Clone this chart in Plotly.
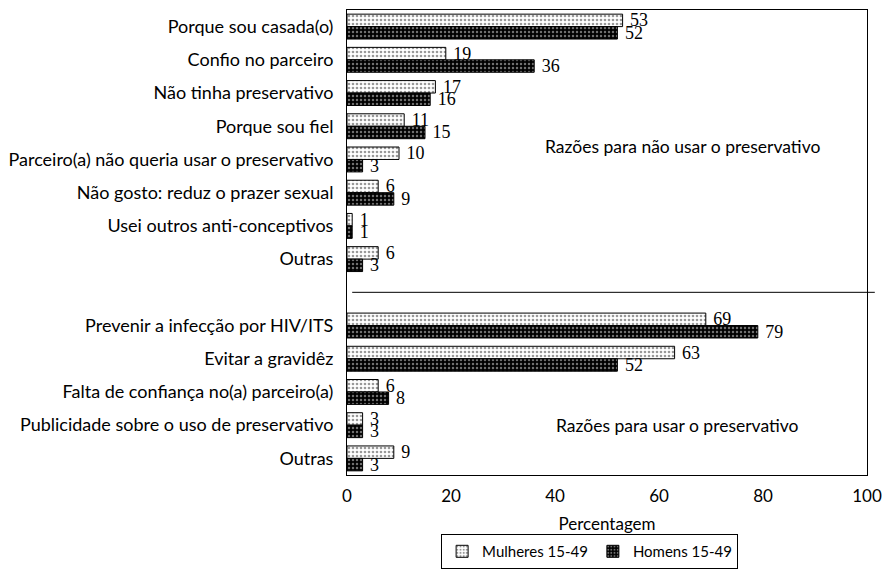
import plotly.graph_objects as go

cats_nao = ["Porque sou casada(o)", "Confio no parceiro", "Não tinha preservativo",
            "Porque sou fiel", "Parceiro(a) não queria usar o preservativo",
            "Não gosto: reduz o prazer sexual", "Usei outros anti-conceptivos", "Outras"]
mulheres_nao = [53, 19, 17, 11, 10, 6, 1, 6]
homens_nao = [52, 36, 16, 15, 3, 9, 1, 3]

cats_usar = ["Prevenir a infecção por HIV/ITS", "Evitar a gravidêz",
             "Falta de confiança no(a) parceiro(a)", "Publicidade sobre o uso de preservativo", "Outras"]
mulheres_usar = [69, 63, 6, 3, 9]
homens_usar = [79, 52, 8, 3, 3]

x_ticks = [0, 20, 40, 60, 80, 100]

labels = cats_nao + cats_usar
ypos = list(range(len(cats_nao))) + list(range(len(cats_nao) + 1, len(cats_nao) + 1 + len(cats_usar)))
gap_pos = len(cats_nao)
mulheres = mulheres_nao + mulheres_usar
homens = homens_nao + homens_usar

SANS = "Lato, Open Sans, sans-serif"
SERIF = "Liberation Serif, DejaVu Serif, serif"

fig = go.Figure()
fig.add_trace(go.Bar(
    name="Mulheres 15-49", y=ypos, x=mulheres, orientation="h",
    texttemplate=" %{x}", textposition="outside", constraintext="none", cliponaxis=False,
    textfont=dict(family=SERIF, size=18, color="black"),
    marker=dict(color="white", line=dict(color="black", width=1),
                pattern=dict(shape=".", bgcolor="white", fgcolor="#333333", size=4, solidity=0.35)),
))
fig.add_trace(go.Bar(
    name="Homens 15-49", y=ypos, x=homens, orientation="h",
    texttemplate=" %{x}", textposition="outside", constraintext="none", cliponaxis=False,
    textfont=dict(family=SERIF, size=18, color="black"),
    marker=dict(color="black", line=dict(color="black", width=1),
                pattern=dict(shape=".", bgcolor="black", fgcolor="#dddddd", size=4, solidity=0.3)),
))

fig.add_shape(type="line", xref="paper", yref="y", x0=0.01, x1=1.015, y0=gap_pos, y1=gap_pos,
              line=dict(color="black", width=1))

fig.add_annotation(x=64.6, y=3.6, xref="x", yref="y", text="Razões para não usar o preservativo",
                   showarrow=False, font=dict(family=SANS, size=17.5, color="black"))
fig.add_annotation(x=63.5, y=12, xref="x", yref="y", text="Razões para usar o preservativo",
                   showarrow=False, font=dict(family=SANS, size=17.5, color="black"))

fig.update_layout(
    width=882, height=571, autosize=False,
    margin=dict(l=347, r=15, t=10, b=96, autoexpand=False),
    paper_bgcolor="white", plot_bgcolor="white",
    barmode="group", bargap=0.25, bargroupgap=0,
    font=dict(family=SANS, size=17, color="black"),
    showlegend=True,
    legend=dict(orientation="h", x=0.181, y=-0.127, xanchor="left", yanchor="top",
                bordercolor="black", borderwidth=1, font=dict(family=SANS, size=15),
                itemwidth=30, tracegroupgap=0),
    xaxis=dict(range=[0, 100], tickvals=x_ticks, showgrid=False, zeroline=False,
               showline=True, linecolor="black", linewidth=1, mirror=True, ticks="",
               ticklabelstandoff=6, automargin=False, tickfont=dict(family=SANS, size=17),
               title=dict(text="Percentagem", standoff=12, font=dict(family=SANS, size=17))),
    yaxis=dict(tickvals=ypos, ticktext=labels, range=[len(labels) + 0.5, -0.5],
               showgrid=False, zeroline=False, showline=True, linecolor="black", linewidth=1,
               mirror=True, ticks="", ticklabelstandoff=9, automargin=False,
               tickfont=dict(family=SANS, size=18)),
)

fig.write_html("out.html",
               config={"displayModeBar": False},
               post_script="document.body.style.margin='0';document.body.style.overflow='hidden';")
